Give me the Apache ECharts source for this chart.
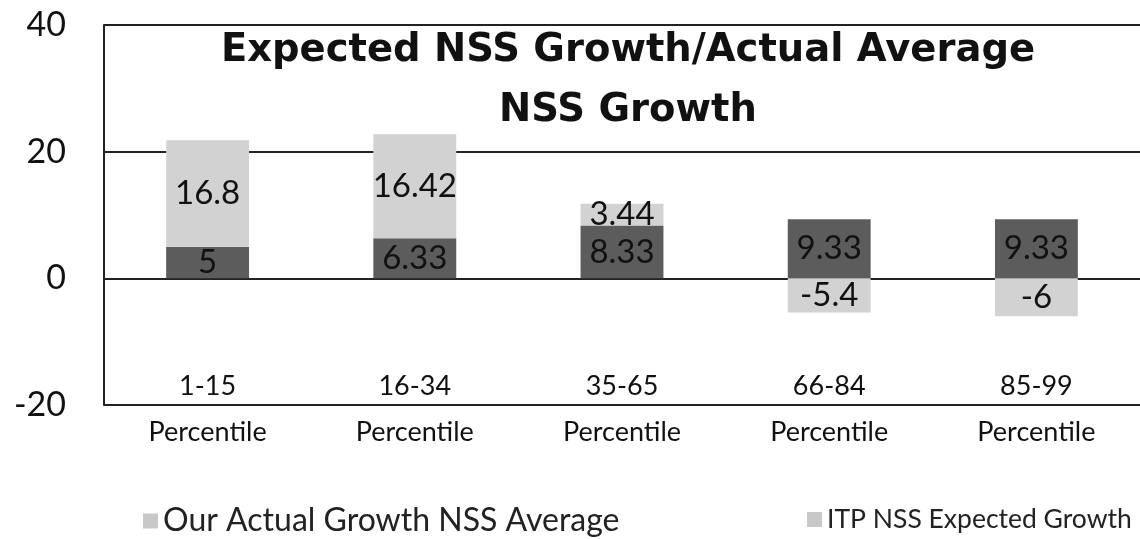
<!DOCTYPE html>
<html>
<head>
<meta charset="utf-8">
<script src="https://cdn.jsdelivr.net/npm/echarts@6/dist/echarts.min.js"></script>
<style>
  html, body { margin: 0; padding: 0; background: #fff; }
  #main { width: 1140px; height: 539px; }
</style>
</head>
<body>
<div id="main"></div>
<script>
var categories = ['1-15\nPercentile', '16-34\nPercentile', '35-65\nPercentile', '66-84\nPercentile', '85-99\nPercentile'];
var actualGrowth = [5, 6.33, 8.33, 9.33, 9.33];
var expectedGrowth = [16.8, 16.42, 3.44, -5.4, -6];
var yTicks = [-20, 0, 20, 40];

var font = 'Lato';
var chart = echarts.init(document.getElementById('main'));

var labelStyle = {
  show: true,
  position: 'inside',
  color: '#111',
  fontFamily: font,
  fontSize: 33
};

var option = {
  animation: false,
  title: {
    text: 'Expected NSS Growth/Actual Average\nNSS Growth',
    left: 623,
    top: 16,
    textAlign: 'center',
    textStyle: {
      fontFamily: 'DejaVu Sans',
      fontWeight: 'bold',
      fontSize: 38.5,
      lineHeight: 60,
      color: '#111'
    }
  },
  legend: [
    {
      left: 138,
      top: 500,
      itemWidth: 15,
      itemHeight: 15,
      icon: 'rect',
      textStyle: { fontFamily: font, fontSize: 32, color: '#222' },
      data: [{ name: 'Our Actual Growth NSS Average', itemStyle: { color: '#c8c8c8' } }]
    },
    {
      left: 802,
      top: 501,
      itemWidth: 15,
      itemHeight: 15,
      icon: 'rect',
      textStyle: { fontFamily: font, fontSize: 26.5, color: '#222' },
      data: [{ name: 'ITP NSS Expected Growth', itemStyle: { color: '#c8c8c8' } }]
    }
  ],
  grid: { left: 104, right: 0, top: 25, bottom: 134 },
  xAxis: {
    type: 'category',
    data: categories,
    axisLine: { show: false },
    axisTick: { show: false },
    axisLabel: {
      margin: -42,
      color: '#111',
      fontFamily: font,
      fontSize: 27,
      lineHeight: 46,
      interval: 0
    }
  },
  yAxis: {
    type: 'value',
    min: yTicks[0],
    max: yTicks[yTicks.length - 1],
    interval: 20,
    axisLine: { show: true, lineStyle: { color: '#222', width: 2 } },
    axisTick: { show: false },
    splitLine: { lineStyle: { color: '#222', width: 2 } },
    axisLabel: { margin: 38, color: '#111', fontFamily: font, fontSize: 34 }
  },
  series: [
    {
      name: 'Our Actual Growth NSS Average',
      type: 'bar',
      stack: 'g',
      barWidth: '40%',
      data: actualGrowth,
      itemStyle: { color: '#5c5c5c' },
      label: labelStyle
    },
    {
      name: 'ITP NSS Expected Growth',
      type: 'bar',
      stack: 'g',
      data: expectedGrowth,
      itemStyle: { color: '#d2d2d2' },
      label: labelStyle
    }
  ]
};
chart.setOption(option);
</script>
</body>
</html>
